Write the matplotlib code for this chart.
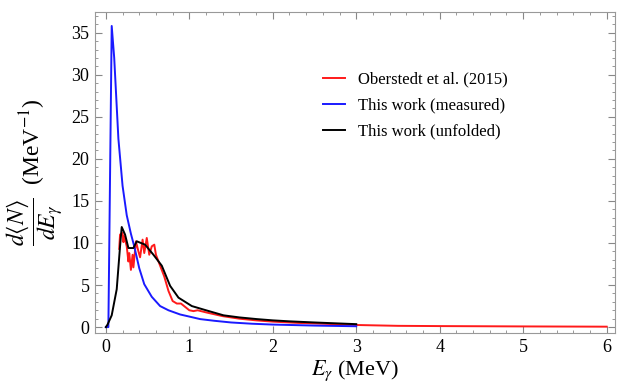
import matplotlib
matplotlib.use("Agg")
import matplotlib.pyplot as plt
from matplotlib.ticker import MultipleLocator

plt.rcParams["font.family"] = ["Liberation Serif", "DejaVu Serif"]
plt.rcParams["mathtext.fontset"] = "stix"

# Oberstedt et al. (2015)
red_x = [0.16, 0.17, 0.20, 0.21, 0.22, 0.25, 0.27, 0.28, 0.30, 0.32, 0.33, 0.36,
         0.39, 0.41, 0.44, 0.46, 0.49, 0.52, 0.55, 0.58, 0.60, 0.65, 0.70, 0.75,
         0.80, 0.85, 0.90, 0.95, 1.00, 1.05, 1.10, 1.20, 1.40, 1.60, 1.80, 2.00,
         2.30, 2.60, 3.00, 3.50, 4.00, 5.00, 6.00]
red_y = [9.3, 11.0, 11.2, 10.1, 10.8, 9.6, 7.8, 8.8, 6.8, 8.6, 7.1, 10.2,
         9.0, 8.3, 10.4, 8.8, 10.6, 8.6, 9.6, 9.8, 8.6, 7.3, 6.0, 4.3,
         3.1, 2.8, 2.8, 2.4, 2.0, 1.9, 2.0, 1.75, 1.3, 1.0, 0.8, 0.65,
         0.5, 0.4, 0.25, 0.15, 0.12, 0.08, 0.05]

# This work (measured)
blue_x = [0.0, 0.03, 0.07, 0.10, 0.15, 0.20, 0.25, 0.30, 0.34, 0.40, 0.46, 0.55,
          0.65, 0.75, 0.89, 1.00, 1.13, 1.30, 1.50, 1.75, 2.00, 2.50, 3.00]
blue_y = [0.0, 0.0, 35.8, 32.0, 22.4, 16.8, 13.3, 11.1, 9.6, 7.0, 5.1, 3.6,
          2.5, 2.0, 1.5, 1.25, 0.95, 0.75, 0.55, 0.4, 0.3, 0.18, 0.1]

# This work (unfolded)
black_x = [0.0, 0.02, 0.07, 0.13, 0.17, 0.19, 0.23, 0.27, 0.33, 0.37, 0.47, 0.57,
           0.67, 0.77, 0.87, 1.03, 1.20, 1.41, 1.60, 1.81, 2.00, 2.21, 2.50, 2.75, 3.00]
black_y = [0.0, 0.3, 1.4, 4.5, 9.6, 11.9, 11.0, 9.4, 9.4, 10.2, 9.8, 8.6,
           7.3, 4.9, 3.5, 2.5, 2.0, 1.4, 1.15, 0.95, 0.8, 0.68, 0.55, 0.45, 0.35]

fig = plt.figure(figsize=(6.19, 3.89), dpi=100)
ax = fig.add_axes([0.1535, 0.144, 0.84, 0.826])

ax.plot(red_x, red_y, color="#ff1a1a", lw=1.4, label="Oberstedt et al. (2015)")
ax.plot(blue_x, blue_y, color="#1a1aff", lw=1.4, label="This work (measured)")
ax.plot(black_x, black_y, color="black", lw=1.4, label="This work (unfolded)")

ax.set_xlim(-0.13, 6.1)
ax.set_ylim(-0.7, 37.5)
ax.xaxis.set_major_locator(MultipleLocator(1))
ax.xaxis.set_minor_locator(MultipleLocator(0.2))
ax.yaxis.set_major_locator(MultipleLocator(5))
ax.yaxis.set_minor_locator(MultipleLocator(1))
ax.tick_params(which="both", direction="in", top=True, right=True,
               color="#888888", labelsize=13)
ax.tick_params(which="major", length=5, pad=4)
ax.tick_params(which="minor", length=2.5)
for s in ax.spines.values():
    s.set_color("#999999")

ax.set_xlabel(r"$E_\gamma$ (MeV)", fontsize=16, labelpad=2)
ax.set_ylabel(r"$\dfrac{d\langle N\rangle}{dE_\gamma}$  (MeV$^{-1}$)", fontsize=17, labelpad=4)

ax.legend(loc="upper left", bbox_to_anchor=(0.41, 0.86), frameon=False,
          fontsize=12, handlelength=1.3, labelspacing=0.6)

fig.savefig("out.png", dpi=100)
